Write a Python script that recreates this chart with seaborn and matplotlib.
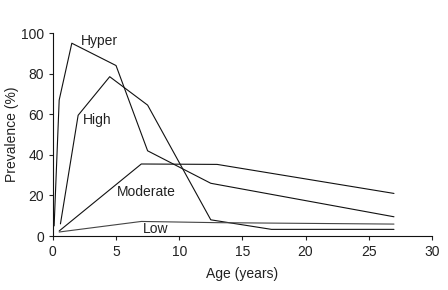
import matplotlib
matplotlib.use("Agg")
import matplotlib.pyplot as plt
import seaborn as sns
import pandas as pd

# Values (age in years, prevalence in %)
hyper_age = [0.1, 0.5, 1.5, 5.0, 7.5, 12.5, 27.0]
hyper_prev = [5, 67, 95, 84, 42, 26, 9.5]

high_age = [0.6, 2.0, 4.5, 7.5, 12.5, 17.3, 27.0]
high_prev = [6, 59.5, 78.5, 64.5, 8, 3.3, 3.3]

moderate_age = [0.5, 7.0, 13.0, 27.0]
moderate_prev = [2.5, 35.5, 35.3, 21]

low_age = [0.5, 7.0, 13.0, 27.0]
low_prev = [2, 7.2, 6.6, 5.9]

labels = ["Hyper", "High", "Moderate", "Low"]
label_x = [2.2, 2.4, 5.1, 7.1]
label_y = [96, 57, 21.5, 3.4]

sns.set_style("ticks")
plt.rcParams['font.family'] = ['Liberation Sans', 'DejaVu Sans']

fig, ax = plt.subplots(figsize=(4.48, 2.9), dpi=100)

series = [
    (hyper_age, hyper_prev, '#111111'),
    (high_age, high_prev, '#111111'),
    (moderate_age, moderate_prev, '#111111'),
    (low_age, low_prev, '#444444'),
]
for (xs, ys, c), name in zip(series, labels):
    df = pd.DataFrame({'age': xs, 'prev': ys})
    sns.lineplot(data=df, x='age', y='prev', ax=ax, color=c, linewidth=0.8,
                 sort=False, estimator=None)

for name, tx, ty in zip(labels, label_x, label_y):
    ax.text(tx, ty, name, fontsize=10, ha='left', va='center', color='#222222')

ax.set_xlim(0, 30)
ax.set_ylim(0, 100)
ax.set_xticks([0, 5, 10, 15, 20, 25, 30])
ax.set_yticks([0, 20, 40, 60, 80, 100])
ax.set_xlabel('Age (years)', fontsize=10, color='#222222', labelpad=6)
ax.set_ylabel('Prevalence (%)', fontsize=10, color='#222222', labelpad=1)
ax.tick_params(labelsize=10, length=3, width=0.8, colors='#222222')
for s in ['left', 'bottom']:
    ax.spines[s].set_linewidth(0.8)
    ax.spines[s].set_color('#111111')
sns.despine(ax=ax)

fig.subplots_adjust(left=0.118, right=0.964, bottom=0.186, top=0.886)
fig.savefig('out.png', dpi=100)
